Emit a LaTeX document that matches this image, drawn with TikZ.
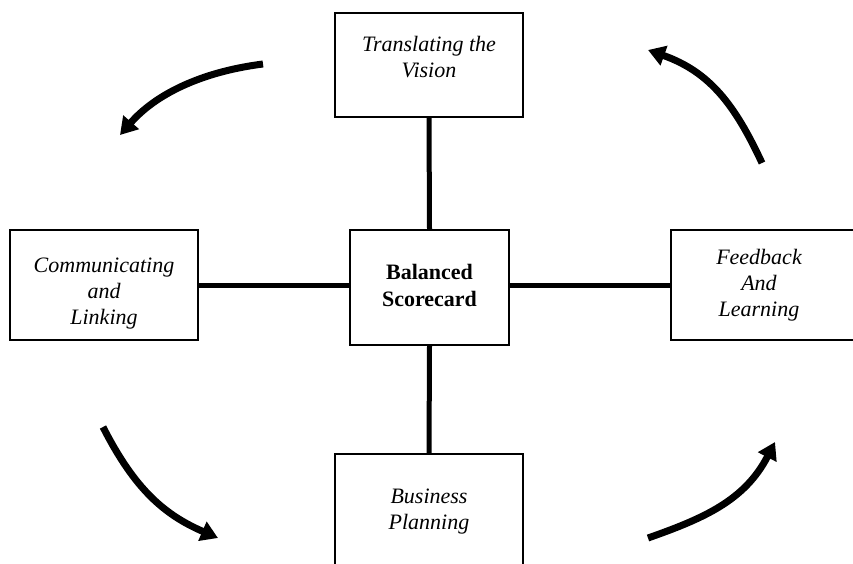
\documentclass[tikz,border=0pt]{standalone}
\usepackage{fontspec}
\setmainfont{Liberation Serif}
\usetikzlibrary{arrows.meta}
\begin{document}
\begin{tikzpicture}[x=1pt,y=-1pt,
  box/.style={draw=black,line width=1.3pt,rectangle,inner sep=0pt},
  txt/.style={align=center,font=\fontsize{22}{26}\selectfont\itshape,inner sep=0pt},
  btxt/.style={align=center,font=\fontsize{22}{27}\selectfont\bfseries,inner sep=0pt},
  link/.style={line width=5pt},
  flow/.style={line width=7pt,-{Triangle[length=17pt,width=20pt]}}]
\useasboundingbox (0,0) rectangle (853,564);
\clip (0,0) rectangle (853,564);
\node[box,minimum width=188pt,minimum height=104pt] (top) at (429,65) {};
\node[box,minimum width=188pt,minimum height=110pt] (left) at (104,285) {};
\node[box,minimum width=159pt,minimum height=115pt] (mid) at (429.5,287.5) {};
\node[box,minimum width=190pt,minimum height=110pt] (right) at (766,285) {};
\node[box,minimum width=188pt,minimum height=116pt] (bot) at (429,512) {};
\node[txt] (ttop) at (429,57) {Translating the\\Vision};
\node[txt] (tleft) at (104,294) {Communicating\\and\\Linking};
\node[btxt] (tmid) at (429.5,285) {Balanced\\Scorecard};
\node[txt] (tright) at (759,285) {Feedback\\And\\Learning};
\node[txt] (tbot) at (429,512) {Business\\Planning};
\draw[link] (top.south) -- (mid.north);
\draw[link] (mid.south) -- (bot.north);
\draw[link] (left.east) -- (left.east -| mid.west);
\draw[link] (mid.east |- right.west) -- (right.west);
\coordinate (a1) at (263,64);  \coordinate (a2) at (120,135);
\coordinate (b1) at (762,163); \coordinate (b2) at (648,50);
\coordinate (c1) at (103,427); \coordinate (c2) at (218,538);
\coordinate (d1) at (648,538); \coordinate (d2) at (775,442);
\draw[flow] (a1) .. controls (200,72) and (155,95) .. (a2);
\draw[flow] (b1) .. controls (735,105) and (710,72) .. (b2);
\draw[flow] (c1) .. controls (135,490) and (165,515) .. (c2);
\draw[flow] (d1) .. controls (705,518) and (745,500) .. (d2);
\end{tikzpicture}
\end{document}
